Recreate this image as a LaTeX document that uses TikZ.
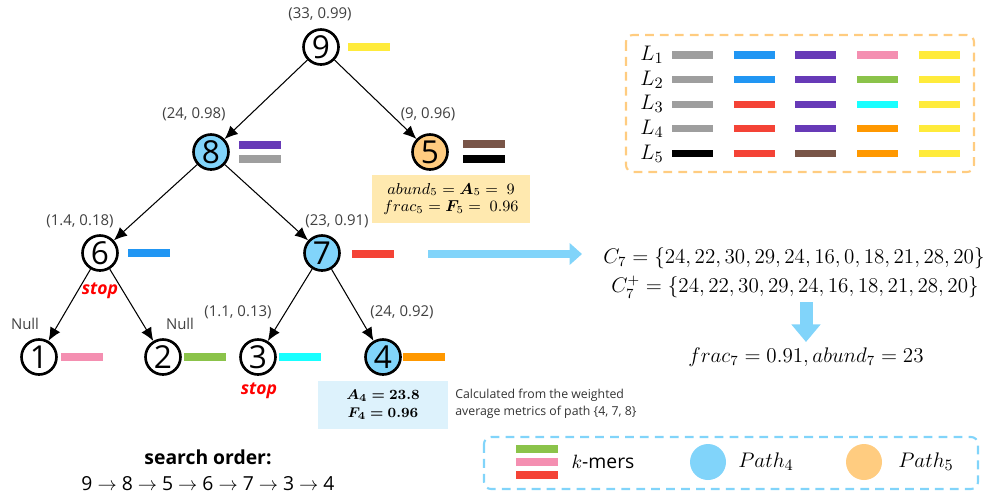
\documentclass[tikz,border=0pt]{standalone}
\usepackage{amsmath,bm}
\usepackage{fontspec}
\setmainfont{Open Sans}
\usetikzlibrary{arrows.meta}
\definecolor{pathblue}{HTML}{81D4FA}
\definecolor{pathorange}{HTML}{FFCC80}
\definecolor{boxyellow}{HTML}{FFE9AF}
\definecolor{boxblue}{HTML}{DDF2FC}
\definecolor{kgray}{HTML}{9E9E9E}
\definecolor{kblue}{HTML}{2196F3}
\definecolor{kpurple}{HTML}{673AB7}
\definecolor{kpink}{HTML}{F48FB1}
\definecolor{kyellow}{HTML}{FFEB3B}
\definecolor{kgreen}{HTML}{8BC34A}
\definecolor{kred}{HTML}{F44336}
\definecolor{kcyan}{HTML}{18FFFF}
\definecolor{korange}{HTML}{FF9800}
\definecolor{kbrown}{HTML}{795548}
\begin{document}
\begin{tikzpicture}[x=0.02cm, y=-0.02cm, >={Latex[length=7.5pt,width=6.5pt]},
    vertex/.style={circle, draw, line width=1.5pt, minimum size=0.7cm, inner sep=0pt, font=\fontsize{18}{18}\selectfont},
    kmer/.style={line width=4pt},
    lab/.style={text=black!75, font=\fontsize{8.5}{10}\selectfont, inner sep=1pt},
    stoplab/.style={text=red, font=\fontsize{10}{12}\selectfont\bfseries\itshape},
    eqn/.style={inner sep=0pt, font=\fontsize{11.5}{13}\selectfont},
    bigarrow/.style={pathblue, line width=5pt, -{Triangle[length=7pt,width=12pt]}},
    dashbox/.style={line width=1.2pt, dash pattern=on 5pt off 3.5pt, rounded corners=4pt}]
\useasboundingbox (0,0) rectangle (983,495);
% tree
\foreach \n/\x/\y/\f in {9/321/47/white, 8/211/152/pathblue, 5/430/152/pathorange, 6/100/253/white, 7/322/253/pathblue, 1/39/357/white, 2/163/357/white, 3/258/357/white, 4/383/357/pathblue}
{
    \node[vertex, fill=\f] (n\n) at (\x,\y) {\n};
}
\foreach \a/\b in {9/8, 9/5, 8/6, 8/7, 6/1, 6/2, 7/3, 7/4}
{
    \draw[->, line width=0.6pt] (n\a) -- (n\b);
}
\foreach \n/\x/\y/\t in {9/320/14/{(33, 0.99)}, 8/194/114/{(24, 0.98)}, 5/428/114/{(9, 0.96)}, 6/80/221/{(1.4, 0.18)}, 7/337/221/{(23, 0.91)}, 3/238/312/{(1.1, 0.13)}, 4/402/312/{(24, 0.92)}}
{
    \node[lab] (lab\n) at (\x,\y) {\t};
}
\node[lab] (null1) at (25,324) {Null};
\node[lab] (null2) at (180,324) {Null};
\node[stoplab] (stop6) at (100,291) {stop};
\node[stoplab] (stop3) at (259,391) {stop};
% k-mers next to the nodes
\foreach \x/\y/\c in {348/47/kyellow, 239/145/kpurple, 239/159/kgray, 463/144/kbrown, 463/159/black, 128/253/kblue, 352/254/kred, 61/357/kpink, 184/357/kgreen, 279/357/kcyan, 403/357/korange}
{
    \draw[kmer,\c] (\x,\y) -- ++(42,0);
}
\node[fill=boxyellow, minimum width=3.18cm, minimum height=0.96cm, align=center, font=\fontsize{9}{10.2}\selectfont] (info5) at (451,199)
    {$abund_5 = \bm{A}_5 =\ 9$\\$frac_5 = \bm{F}_5 =\ 0.96$};
\node[fill=boxblue, minimum width=2.6cm, minimum height=0.96cm, align=center, font=\fontsize{8.5}{10.2}\selectfont] (info4) at (383,405)
    {$\bm{A_4 = 23.8}$\\$\bm{F_4 = 0.96}$};
\node[anchor=west, align=left, text=black!80, font=\fontsize{7}{9.6}\selectfont, inner sep=0pt] (note4) at (455,404)
    {Calculated from the weighted\\average metrics of path \{4, 7, 8\}};
\node[font=\fontsize{11}{13}\selectfont\bfseries] (order) at (208,457) {search order:};
\node[font=\fontsize{11}{13}\selectfont] (seq) at (208,484)
    {9 $\rightarrow$ 8 $\rightarrow$ 5 $\rightarrow$ 6 $\rightarrow$ 7 $\rightarrow$ 3 $\rightarrow$ 4};
% paths table
\draw[dashbox, pathorange] (626,35) rectangle (974,172);
\foreach \row [count=\i] in {{kgray,kblue,kpurple,kpink,kyellow},{kgray,kblue,kpurple,kgreen,kyellow},{kgray,kred,kpurple,kcyan,kyellow},{kgray,kred,kpurple,korange,kyellow},{black,kred,kbrown,korange,kyellow}}
{
    \node[font=\fontsize{13}{15}\selectfont] (L\i) at (652,{55+24.6*(\i-1)}) {$L_{\i}$};
    \foreach \c [count=\j] in \row
        \draw[kmer,\c] ({672+61.7*(\j-1)},{55+24.6*(\i-1)}) -- ++(41,0);
}
% components of node 7
\coordinate (a1) at (428,254);
\coordinate (a2) at (582,254);
\draw[bigarrow] (a1) -- (a2);
\node[eqn] (eqc) at (794,258) {$C_7 = \{24, 22, 30, 29, 24, 16, 0, 18, 21, 28, 20\}$};
\node[eqn] (eqcp) at (795,287) {$C_7^{+} = \{24, 22, 30, 29, 24, 16, 18, 21, 28, 20\}$};
\node[eqn, font=\fontsize{12}{14}\selectfont] (eqf) at (806,357) {$frac_7 = 0.91, abund_7 = 23$};
\draw[pathblue, line width=7.4pt, -{Triangle[length=10pt,width=16pt]}, shorten <=2pt] (eqcp.south -| eqf.north) -- ([yshift=3pt]eqf.north);
% legend
\draw[dashbox, pathblue] (484,437) rectangle (978,489);
\foreach \y/\c in {449/kgreen, 462/kpink, 475/kred}
{
    \draw[kmer, line width=4.5pt, \c] (516,\y) -- (558,\y);
}
\node[font=\fontsize{11}{13}\selectfont] (legk) at (603,462) {$k$-mers};
\node[circle, fill=pathblue, minimum size=0.72cm] (leg4) at (708,462) {};
\node[font=\fontsize{12.5}{14}\selectfont] (legt4) at (766,462) {$Path_4$};
\node[circle, fill=pathorange, minimum size=0.72cm] (leg5) at (864,462) {};
\node[font=\fontsize{12.5}{14}\selectfont] (legt5) at (926,462) {$Path_5$};
\end{tikzpicture}
\end{document}
